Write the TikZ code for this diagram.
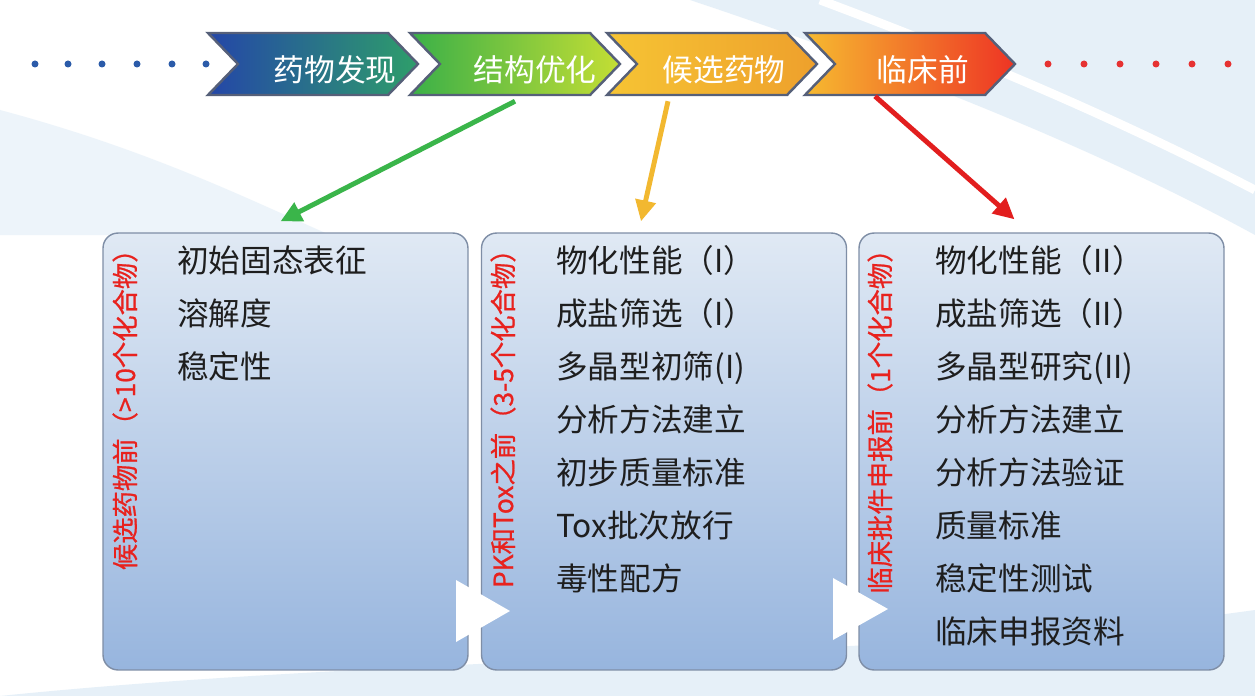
\documentclass[tikz,border=0pt]{standalone}
\usepackage{fontspec}
\setmainfont{Noto Sans CJK SC}
\newfontfamily\labelfont{Noto Sans CJK SC}[FakeBold=0.8]
\usetikzlibrary{calc,arrows.meta,shapes.symbols}

\definecolor{chevline}{HTML}{566079}
\definecolor{boxline}{HTML}{7F8EA6}
\definecolor{boxtop}{HTML}{E0E9F4}
\definecolor{boxbottom}{HTML}{97B5DE}
\definecolor{labelred}{HTML}{E8221E}
\definecolor{itemtext}{HTML}{1E1E1E}
\definecolor{dotblue}{HTML}{2B5BA9}
\definecolor{dotred}{HTML}{E63232}
\definecolor{bgblue}{HTML}{DCEAF6}
\definecolor{discleft}{HTML}{2446A8}
\definecolor{discright}{HTML}{2E9E6A}
\definecolor{optleft}{HTML}{3AB048}
\definecolor{optright}{HTML}{C4DE34}
\definecolor{candleft}{HTML}{F6C434}
\definecolor{candright}{HTML}{EEA02C}
\definecolor{preleft}{HTML}{F6BA30}
\definecolor{preright}{HTML}{EE3424}
\definecolor{greenarrow}{HTML}{3AB54A}
\definecolor{yellowarrow}{HTML}{F2B830}
\definecolor{redarrow}{HTML}{E21E1E}

\tikzset{
  chev/.style={signal, signal from=west, signal to=east, signal pointer angle=92,
    minimum width=4.2cm, minimum height=1.24cm, inner sep=0pt,
    draw=chevline, line width=1.4pt},
  chevtext/.style={text=white, font=\fontsize{17.5}{20}\selectfont, inner sep=0pt},
  stagebox/.style={draw=boxline, line width=0.8pt, rounded corners=0.3cm,
    top color=boxtop, bottom color=boxbottom,
    minimum width=7.3cm, minimum height=8.74cm, inner sep=0pt},
  stagelabel/.style={text=labelred, font=\labelfont\fontsize{15}{17}\selectfont,
    rotate=90, anchor=east, inner sep=0pt},
  item/.style={text=itemtext, font=\fontsize{18}{20}\selectfont,
    anchor=base west, inner sep=0pt},
  flow/.style={line width=2.8pt, -{Triangle[length=0.42cm,width=0.4cm]}}
}

\begin{document}
\begin{tikzpicture}[x=0.02cm, y=-0.02cm]
  \useasboundingbox (0,0) rectangle (1255,696);
  \fill[white] (0,0) rectangle (1255,696);
  % background bands
  \fill[bgblue, opacity=0.7] (690,0) .. controls (900,70) and (1100,150) .. (1255,235) -- (1255,0) -- cycle;
  \draw[white, line width=5pt] (820,0) .. controls (980,60) and (1120,120) .. (1255,190);
  \fill[bgblue, opacity=0.7] (0,696) .. controls (400,655) and (900,660) .. (1255,610) -- (1255,696) -- cycle;
  \fill[bgblue, opacity=0.5] (0,110) .. controls (150,150) and (250,200) .. (330,235) -- (0,235) -- cycle;

  \foreach \x in {35,68,102,137,172,206}
    \fill[dotblue] (\x,64) circle (3.5);
  \foreach \x in {1048,1084,1120,1156,1192,1228}
    \fill[dotred] (\x,64) circle (3.5);

  \node[chev, left color=discleft, right color=discright] (c1) at (313,64) {};
  \node[chev, left color=optleft, right color=optright] (c2) at (515,64) {};
  \node[chev, left color=candleft, right color=candright] (c3) at (712,64) {};
  \node[chev, left color=preleft, right color=preright] (c4) at (910,64) {};

  \node[chevtext] (t1) at (335,70) {药物发现};
  \node[chevtext] (t2) at (535,70) {结构优化};
  \node[chevtext] (t3) at (724,70) {候选药物};
  \node[chevtext] (t4) at (923,70) {临床前};

  \node[stagebox] (b1) at (285.5,451.5) {};
  \node[stagebox] (b2) at (664,451.5) {};
  \node[stagebox] (b3) at (1041.5,451.5) {};

  \fill[white] (456,580) -- (456,642) -- (510,611) -- cycle;
  \fill[white] (833,578) -- (833,640) -- (888,609) -- cycle;

  \draw[flow, greenarrow] ($(c2.south)+(0,5)$) -- ($(b1.north)+(-5,-11)$);
  \draw[flow, yellowarrow] ($(c3.south)+(-44,5)$) -- ($(b2.north)+(-23,-11)$);
  \draw[flow, redarrow] ($(c4.south)+(-35,0)$) -- ($(b3.north)+(-27,-13)$);

  \node[stagelabel] (l1) at (125,236) {候选药物前（>10个化合物）};
  \node[stagelabel] (l2) at (503,236) {PK和Tox之前（3-5个化合物）};
  \node[stagelabel] (l3) at (880,236) {临床批件申报前（1个化合物）};

  \foreach \txt [count=\i] in {初始固态表征, 溶解度, 稳定性}
    \node[item] (p\i) at (177,{272+53*(\i-1)}) {\txt};
  \foreach \txt [count=\i] in {物化性能（I）, 成盐筛选（I）, 多晶型初筛(I), 分析方法建立,
      初步质量标准, Tox批次放行, 毒性配方}
    \node[item] (q\i) at (556,{272+53*(\i-1)}) {\txt};
  \foreach \txt [count=\i] in {物化性能（II）, 成盐筛选（II）, 多晶型研究(II), 分析方法建立,
      分析方法验证, 质量标准, 稳定性测试, 临床申报资料}
    \node[item] (r\i) at (935,{272+53*(\i-1)}) {\txt};
\end{tikzpicture}
\end{document}
